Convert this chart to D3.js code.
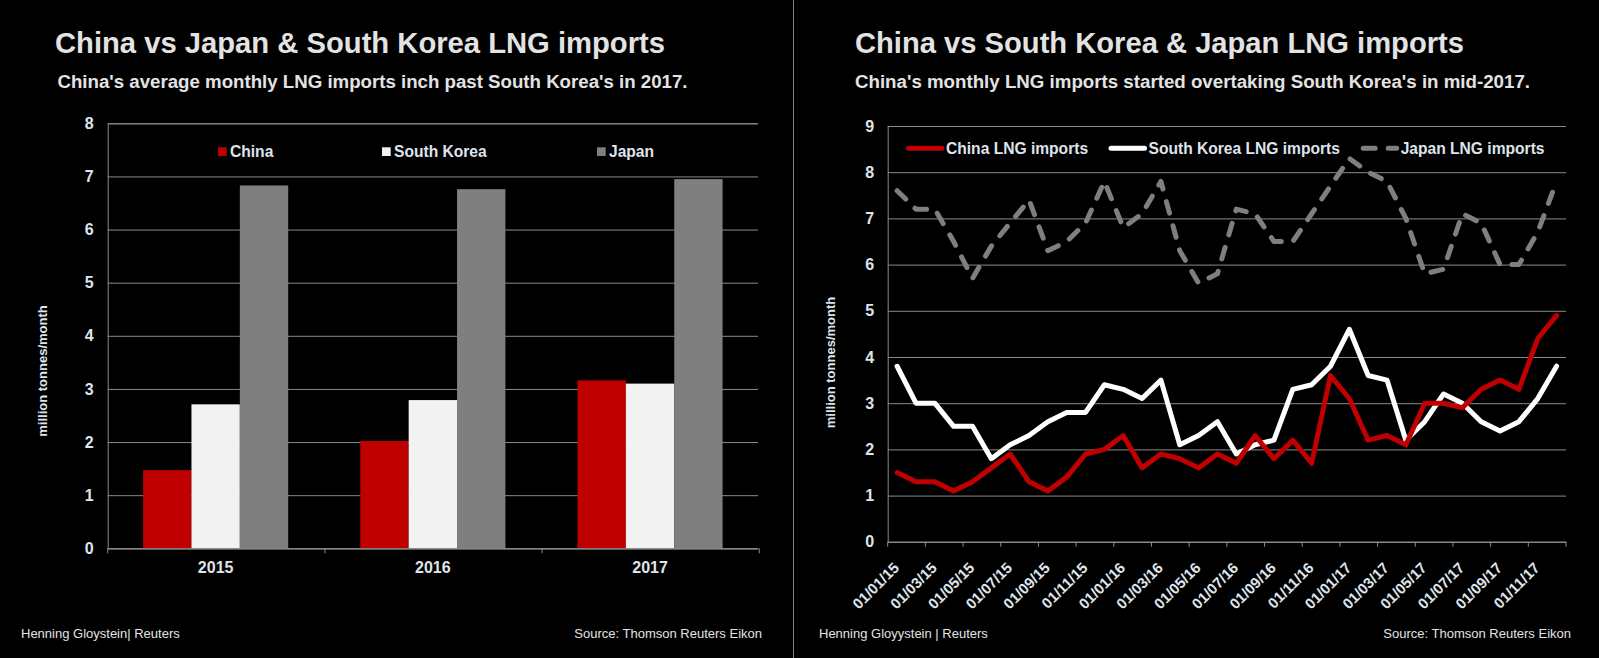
<!DOCTYPE html>
<html lang="en">
	<head>
		<meta charset="utf-8">
		<title>China vs Japan & South Korea LNG imports</title>
		<script type="text/javascript" src="https://cdn.jsdelivr.net/npm/d3@7"></script>
		<style type="text/css">
			body { margin: 0; background: #000; }
			svg { display: block; }
			text { font-family: "Liberation Sans", Arial, sans-serif; }
		</style>
	</head>
	<body>

		<script type="text/javascript">
			//Bar chart data (yearly average, million tonnes/month)
			var years = ["2015", "2016", "2017"];
			var barSeries = ["China", "South Korea", "Japan"];
			var chinaAvg = [1.47, 2.02, 3.16];
			var koreaAvg = [2.71, 2.79, 3.10];
			var japanAvg = [6.83, 6.76, 6.95];
			var barTicks = [0, 1, 2, 3, 4, 5, 6, 7, 8];

			//Line chart data (monthly)
			var months = ["01/01/15","01/02/15","01/03/15","01/04/15","01/05/15","01/06/15",
						  "01/07/15","01/08/15","01/09/15","01/10/15","01/11/15","01/12/15",
						  "01/01/16","01/02/16","01/03/16","01/04/16","01/05/16","01/06/16",
						  "01/07/16","01/08/16","01/09/16","01/10/16","01/11/16","01/12/16",
						  "01/01/17","01/02/17","01/03/17","01/04/17","01/05/17","01/06/17",
						  "01/07/17","01/08/17","01/09/17","01/10/17","01/11/17","01/12/17"];
			var chinaMonthly = [1.5, 1.3, 1.3, 1.1, 1.3, 1.6, 1.9, 1.3, 1.1, 1.4, 1.9, 2.0,
								2.3, 1.6, 1.9, 1.8, 1.6, 1.9, 1.7, 2.3, 1.8, 2.2, 1.7, 3.6,
								3.1, 2.2, 2.3, 2.1, 3.0, 3.0, 2.9, 3.3, 3.5, 3.3, 4.4, 4.9];
			var koreaMonthly = [3.8, 3.0, 3.0, 2.5, 2.5, 1.8, 2.1, 2.3, 2.6, 2.8, 2.8, 3.4,
								3.3, 3.1, 3.5, 2.1, 2.3, 2.6, 1.9, 2.1, 2.2, 3.3, 3.4, 3.8,
								4.6, 3.6, 3.5, 2.2, 2.6, 3.2, 3.0, 2.6, 2.4, 2.6, 3.1, 3.8];
			var japanMonthly = [7.6, 7.2, 7.2, 6.5, 5.7, 6.4, 6.9, 7.4, 6.3, 6.5, 6.9, 7.8,
								6.8, 7.1, 7.8, 6.3, 5.6, 5.8, 7.2, 7.1, 6.5, 6.5, 7.1, 7.7,
								8.3, 8.0, 7.8, 7.0, 5.8, 5.9, 7.1, 6.9, 6.0, 6.0, 6.7, 7.8];
			var lineTicks = [0, 1, 2, 3, 4, 5, 6, 7, 8, 9];

			//Width and height
			var w = 1599;
			var h = 658;

			var textCol = "#dfe4ec";
			var titleCol = "#e3e3e3";
			var gridCol = "#8a8a8a";
			var barColors = ["#c00000", "#f2f2f2", "#7f7f7f"];

			//Create SVG element
			var svg = d3.select("body")
						.append("svg")
						.attr("width", w)
						.attr("height", h);

			svg.append("rect")
				.attr("width", w)
				.attr("height", h)
				.attr("fill", "#000");

			//Divider between the two panels
			svg.append("line")
				.attr("x1", 793.5).attr("x2", 793.5)
				.attr("y1", 0).attr("y2", h)
				.attr("stroke", "#808080")
				.attr("stroke-width", 1);

			//Titles, subtitles and footers
			function addText(x, y, str, size, weight, anchor, len) {
				var t = svg.append("text")
					.attr("x", x)
					.attr("y", y)
					.attr("fill", titleCol)
					.attr("font-size", size + "px")
					.attr("font-weight", weight)
					.attr("text-anchor", anchor)
					.text(str);
				if (len) {
					t.attr("textLength", len).attr("lengthAdjust", "spacingAndGlyphs");
				}
				return t;
			}

			addText(55, 53, "China vs Japan & South Korea LNG imports", 29, "bold", "start", 610);
			addText(57.5, 88, "China's average monthly LNG imports inch past South Korea's in 2017.", 18, "bold", "start", 630);
			addText(855, 53, "China vs South Korea & Japan LNG imports", 29, "bold", "start", 609);
			addText(855, 88, "China's monthly LNG imports started overtaking South Korea's in mid-2017.", 18, "bold", "start", 675);

			addText(21, 638, "Henning Gloystein| Reuters", 13, "normal", "start");
			addText(762, 638, "Source: Thomson Reuters Eikon", 13, "normal", "end");
			addText(819, 638, "Henning Gloyystein | Reuters", 13, "normal", "start");
			addText(1571, 638, "Source: Thomson Reuters Eikon", 13, "normal", "end");

			// ---------- Left panel: grouped bars ----------
			var left = {x0: 107.7, x1: 758, y0: 123.3, y1: 548.3};

			var xL = d3.scaleBand()
						.domain(years)
						.range([left.x0, left.x1])
						.paddingInner(0.332)
						.paddingOuter(0.163);

			var xSub = d3.scaleBand()
						.domain(barSeries)
						.range([0, xL.bandwidth()]);

			var yL = d3.scaleLinear()
						.domain([0, 8])
						.range([left.y1, left.y0]);

			//Y axis with gridlines
			var yAxisL = d3.axisLeft()
						.scale(yL)
						.tickValues(barTicks)
						.tickSize(-(left.x1 - left.x0))
						.tickPadding(14);

			var gyL = svg.append("g")
				.attr("class", "y axis")
				.attr("transform", "translate(" + left.x0 + ",0)")
				.call(yAxisL);
			gyL.select(".domain").attr("stroke", gridCol);
			gyL.selectAll(".tick line").attr("stroke", gridCol);
			gyL.selectAll(".tick text")
				.attr("fill", textCol)
				.attr("font-size", "16px")
				.attr("font-weight", "bold")
				.attr("font-family", "Liberation Sans, Arial, sans-serif");

			//Bars
			var barData = [chinaAvg, koreaAvg, japanAvg];
			barData.forEach(function(vals, s) {
				svg.append("g")
					.selectAll("rect")
					.data(vals)
					.enter()
					.append("rect")
					.attr("x", function(d, i) { return xL(years[i]) + xSub(barSeries[s]); })
					.attr("y", function(d) { return yL(d); })
					.attr("width", xSub.bandwidth())
					.attr("height", function(d) { return yL(0) - yL(d); })
					.attr("fill", barColors[s]);
			});

			//X axis
			var xAxisL = d3.axisBottom()
						.scale(xL)
						.tickSize(0)
						.tickSizeOuter(0);

			var gxL = svg.append("g")
				.attr("class", "x axis")
				.attr("transform", "translate(0," + left.y1 + ")")
				.call(xAxisL);
			gxL.select(".domain").attr("stroke", gridCol);
			gxL.selectAll(".tick text")
				.attr("fill", textCol)
				.attr("font-size", "16px")
				.attr("font-weight", "bold")
				.attr("font-family", "Liberation Sans, Arial, sans-serif")
				.attr("y", 24.5)
				.attr("dy", 0);

			//category boundary tick marks
			gxL.selectAll(".bound")
				.data(d3.range(years.length + 1))
				.enter()
				.append("line")
				.attr("x1", function(i) { return left.x0 + i * xL.step(); })
				.attr("x2", function(i) { return left.x0 + i * xL.step(); })
				.attr("y1", 0)
				.attr("y2", 5)
				.attr("stroke", gridCol);

			//Y axis title
			svg.append("text")
				.attr("transform", "translate(42.5,371) rotate(-90)")
				.attr("dy", "0.36em")
				.attr("text-anchor", "middle")
				.attr("fill", textCol)
				.attr("font-size", "13px")
				.attr("font-weight", "bold")
				.text("million tonnes/month");

			//Legend
			var legL = [218, 382, 597];
			barSeries.forEach(function(name, i) {
				svg.append("rect")
					.attr("x", legL[i])
					.attr("y", 147.3)
					.attr("width", 8.7)
					.attr("height", 8.7)
					.attr("fill", barColors[i]);
				svg.append("text")
					.attr("x", legL[i] + 12)
					.attr("y", 157.3)
					.attr("fill", textCol)
					.attr("font-size", "15.6px")
					.attr("font-weight", "bold")
					.text(name);
			});

			// ---------- Right panel: monthly lines ----------
			var right = {x0: 887.7, x1: 1566, y0: 126, y1: 541.8};

			var xR = d3.scaleBand()
						.domain(months)
						.range([right.x0, right.x1]);

			var yR = d3.scaleLinear()
						.domain([0, 9])
						.range([right.y1, right.y0]);

			var yAxisR = d3.axisLeft()
						.scale(yR)
						.tickValues(lineTicks)
						.tickSize(-(right.x1 - right.x0))
						.tickPadding(13.5);

			var gyR = svg.append("g")
				.attr("class", "y axis")
				.attr("transform", "translate(" + right.x0 + ",0)")
				.call(yAxisR);
			gyR.select(".domain").attr("stroke", gridCol);
			gyR.selectAll(".tick line").attr("stroke", gridCol);
			gyR.selectAll(".tick text")
				.attr("fill", textCol)
				.attr("font-size", "16px")
				.attr("font-weight", "bold")
				.attr("font-family", "Liberation Sans, Arial, sans-serif");

			var labelled = months.filter(function(d, i) { return i % 2 === 0; });

			var xAxisR = d3.axisBottom()
						.scale(xR)
						.tickValues(labelled)
						.tickSize(0)
						.tickSizeOuter(0);

			var gxR = svg.append("g")
				.attr("class", "x axis")
				.attr("transform", "translate(0," + right.y1 + ")")
				.call(xAxisR);
			gxR.select(".domain").attr("stroke", gridCol);
			gxR.selectAll(".tick text")
				.attr("fill", textCol)
				.attr("font-size", "15px")
				.attr("font-weight", "bold")
				.attr("font-family", "Liberation Sans, Arial, sans-serif")
				.attr("text-anchor", "end")
				.attr("y", 0)
				.attr("dy", 0)
				.attr("transform", "translate(3,27) rotate(-45)");

			//tick marks every two months
			gxR.selectAll(".bound")
				.data(labelled.concat([null]))
				.enter()
				.append("line")
				.attr("x1", function(d) { return d === null ? right.x1 : xR(d); })
				.attr("x2", function(d) { return d === null ? right.x1 : xR(d); })
				.attr("y1", 0)
				.attr("y2", 5)
				.attr("stroke", gridCol);

			svg.append("text")
				.attr("transform", "translate(830,362.5) rotate(-90)")
				.attr("dy", "0.36em")
				.attr("text-anchor", "middle")
				.attr("fill", textCol)
				.attr("font-size", "13px")
				.attr("font-weight", "bold")
				.text("million tonnes/month");

			//Lines
			var line = d3.line()
						.x(function(d, i) { return xR(months[i]) + xR.bandwidth() / 2; })
						.y(function(d) { return yR(d); });

			var lineSeries = [
				{name: "Japan LNG imports", values: japanMonthly, color: "#7f7f7f", dash: "12,13"},
				{name: "South Korea LNG imports", values: koreaMonthly, color: "#ffffff", dash: null},
				{name: "China LNG imports", values: chinaMonthly, color: "#c00000", dash: null}
			];

			lineSeries.forEach(function(s) {
				svg.append("path")
					.datum(s.values)
					.attr("d", line)
					.attr("fill", "none")
					.attr("stroke", s.color)
					.attr("stroke-width", 5)
					.attr("stroke-linejoin", "round")
					.attr("stroke-linecap", "round")
					.attr("stroke-dasharray", s.dash);
			});

			//Legend
			var legR = [
				{s: lineSeries[2], x: 908.5},
				{s: lineSeries[1], x: 1111},
				{s: lineSeries[0], x: 1363.2}
			];
			legR.forEach(function(l) {
				svg.append("line")
					.attr("x1", l.x)
					.attr("x2", l.x + 33.5)
					.attr("y1", 148.3)
					.attr("y2", 148.3)
					.attr("stroke", l.s.color)
					.attr("stroke-width", 5)
					.attr("stroke-linecap", "round")
					.attr("stroke-dasharray", l.s.dash);
				svg.append("text")
					.attr("x", l.x + 37.5)
					.attr("y", 154)
					.attr("fill", textCol)
					.attr("font-size", "15.6px")
					.attr("font-weight", "bold")
					.text(l.s.name);
			});

		</script>
	</body>
</html>
